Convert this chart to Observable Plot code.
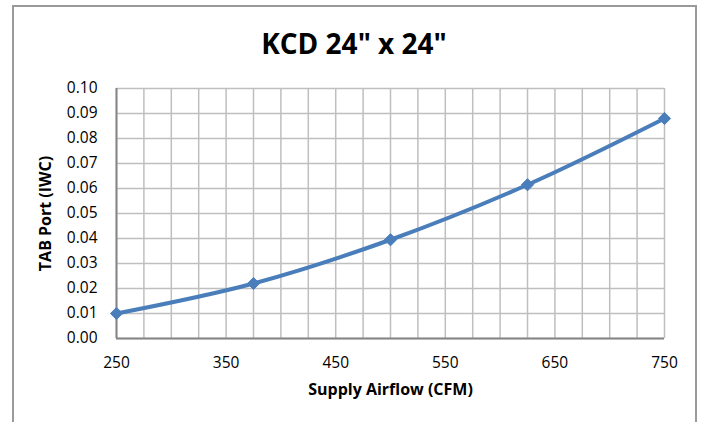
<!DOCTYPE html>
<html>
<head>
<meta charset="utf-8">
<script src="https://cdn.jsdelivr.net/npm/d3@7"></script>
<script src="https://cdn.jsdelivr.net/npm/@observablehq/plot@0.6"></script>
<style>
  html, body { margin: 0; padding: 0; background: #fff; }
  #wrap { position: relative; width: 702px; height: 422px; overflow: hidden; background: #fff; }
  #frame { position: absolute; left: 12px; top: 5px; width: 685px; height: 440px; border: 2px solid #9a9a9a; box-sizing: border-box; }
  #title { position: absolute; left: 0; top: 24px; width: 708px; text-align: center;
           font-family: "Liberation Sans Narrow", "Open Sans", sans-serif; font-weight: bold; font-size: 28px; color: #000; }
  #chart { position: absolute; left: 0; top: 0; }
  #chart svg g[aria-label="x-axis label"] text,
  #chart svg g[aria-label="y-axis label"] text { font-weight: bold; font-size: 16px; }
</style>
</head>
<body>
<div id="wrap">
  <div id="frame"></div>
  <div id="title">KCD 24" x 24"</div>
  <div id="chart"></div>
</div>
<script>
const airflow = [250, 375, 500, 625, 750];
const pressure = [0.010, 0.022, 0.0395, 0.0615, 0.088];
const xTickLabels = [250, 350, 450, 550, 650, 750];
const yTickLabels = [0, 0.01, 0.02, 0.03, 0.04, 0.05, 0.06, 0.07, 0.08, 0.09, 0.10];
const xGrid = d3.range(250, 751, 25);

const data = airflow.map((x, i) => ({x, y: pressure[i]}));

const fontFam = "'Open Sans', sans-serif";

const chart = Plot.plot({
  width: 702,
  height: 422,
  marginLeft: 116,
  marginRight: 38,
  marginTop: 88,
  marginBottom: 84,
  style: {fontFamily: fontFam, fontSize: "15.5px", color: "#000", background: "transparent", overflow: "visible"},
  x: {domain: [250, 750]},
  y: {domain: [0, 0.10]},
  marks: [
    Plot.gridX(xGrid, {stroke: "#bfbfbf", strokeOpacity: 1, strokeWidth: 1.5}),
    Plot.gridY(yTickLabels, {stroke: "#bfbfbf", strokeOpacity: 1, strokeWidth: 1.5}),
    Plot.ruleX([250], {stroke: "#868686", strokeWidth: 2}),
    Plot.ruleY([0], {stroke: "#868686", strokeWidth: 2}),
    Plot.axisX(xTickLabels, {tickSize: 0, tickPadding: 18, fontSize: 15.5, label: "Supply Airflow (CFM)", labelAnchor: "center", labelArrow: "none", labelOffset: 56}),
    Plot.axisY(yTickLabels, {tickSize: 0, tickPadding: 19, fontSize: 15.5, tickFormat: d3.format(".2f"), label: "TAB Port (IWC)", labelAnchor: "center", labelArrow: "none", labelOffset: 77}),
    Plot.line(data, {x: "x", y: "y", stroke: "#4a7ebb", strokeWidth: 4, curve: "catmull-rom"}),
    Plot.dot(data, {x: "x", y: "y", symbol: "diamond2", r: 5.5, fill: "#4a7ebb", stroke: "#4a7ebb", strokeWidth: 1})
  ]
});
document.getElementById("chart").appendChild(chart);
</script>
</body>
</html>
